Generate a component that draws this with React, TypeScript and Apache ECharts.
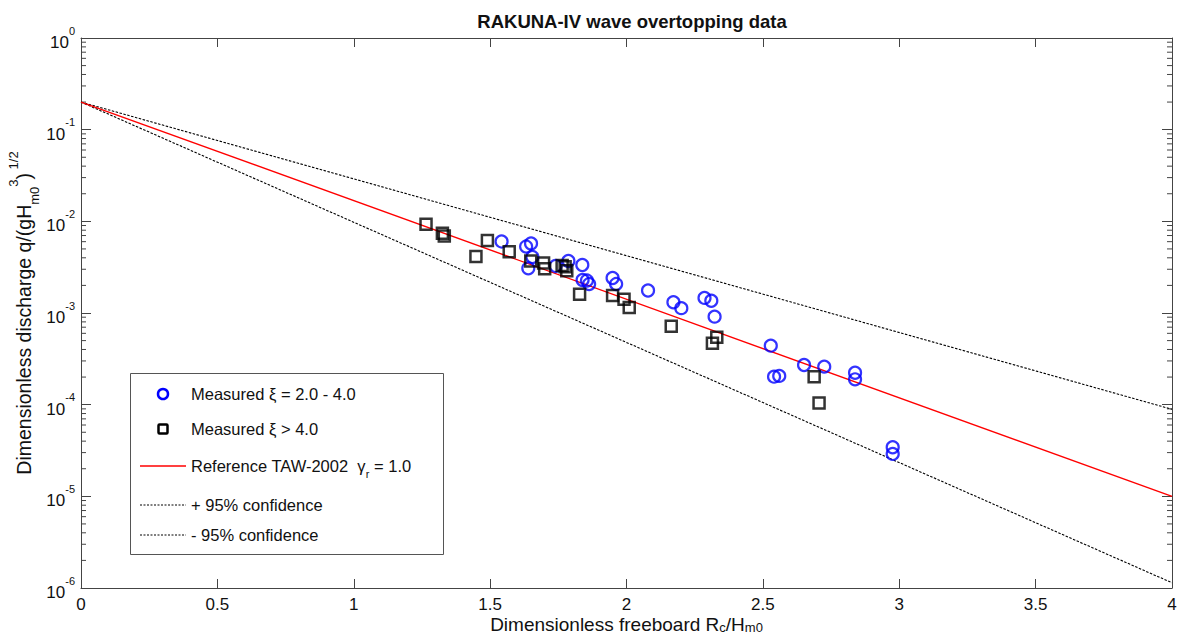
import React, { useEffect, useRef } from "react";
import * as echarts from "echarts";

const FONT = '"Liberation Sans", Arial, sans-serif';

// Measured xi = 2.0 - 4.0 (blue circles)
const blueX = [1.542, 1.632, 1.650, 1.655, 1.640, 1.740, 1.787, 1.838, 1.839, 1.855, 1.863, 1.949, 1.962, 2.079, 2.172, 2.201, 2.286, 2.311, 2.323, 2.529, 2.541, 2.560, 2.651, 2.725, 2.838, 2.838, 2.976, 2.976];
const blueY = [6.03e-3, 5.31e-3, 5.73e-3, 4.08e-3, 3.07e-3, 3.26e-3, 3.69e-3, 3.34e-3, 2.29e-3, 2.26e-3, 2.07e-3, 2.41e-3, 2.07e-3, 1.76e-3, 1.31e-3, 1.13e-3, 1.46e-3, 1.36e-3, 9.12e-4, 4.40e-4, 2.02e-4, 2.06e-4, 2.71e-4, 2.60e-4, 2.23e-4, 1.89e-4, 3.43e-5, 2.90e-5];

// Measured xi > 4.0 (black squares)
const blackX = [1.265, 1.325, 1.332, 1.448, 1.490, 1.570, 1.649, 1.696, 1.700, 1.764, 1.775, 1.781, 1.828, 1.949, 1.991, 2.010, 2.164, 2.315, 2.331, 2.688, 2.706];
const blackY = [9.29e-3, 7.41e-3, 6.92e-3, 4.13e-3, 6.18e-3, 4.67e-3, 3.69e-3, 3.51e-3, 3.04e-3, 3.30e-3, 3.20e-3, 2.89e-3, 1.60e-3, 1.55e-3, 1.41e-3, 1.15e-3, 7.18e-4, 4.67e-4, 5.43e-4, 2.02e-4, 1.04e-4];

// Reference lines (straight on log axis)
const lineX = [0, 4];
const refY = [0.2, 1.0e-5];
const upperY = [0.2, 8.9e-5];
const lowerY = [0.2, 1.14e-6];

const xTicks = [0, 0.5, 1, 1.5, 2, 2.5, 3, 3.5, 4];

const minorTickValues: number[] = [];
for (let e = -6; e < 0; e++) {
  for (let m = 2; m <= 9; m++) minorTickValues.push(m * Math.pow(10, e));
}

const zip = (xs: number[], ys: number[]) => xs.map((x, i) => [x, ys[i]]);

const AXIS_COLOR = "#444";
const LEG_FS = 16.5;

export default function App() {
  const ref = useRef<HTMLDivElement>(null);

  useEffect(() => {
    if (!ref.current) return;
    const chart = echarts.init(ref.current, undefined, { renderer: "svg" });

    const yLabelRich = {
      b: { fontSize: 17, fontFamily: FONT, color: "#111", lineHeight: 26, verticalAlign: "bottom" as const },
      e: { fontSize: 11, fontFamily: FONT, color: "#111", lineHeight: 12, verticalAlign: "top" as const },
    };

    const legendItems: any[] = [
      {
        type: "rect",
        z: 100,
        shape: { x: 130.5, y: 373.5, width: 313, height: 181 },
        style: { fill: "#fff", stroke: "#555", lineWidth: 1 },
      },
      {
        type: "circle",
        z: 101,
        shape: { cx: 163, cy: 394, r: 5 },
        style: { fill: "none", stroke: "#0000ff", lineWidth: 2.5 },
      },
      {
        type: "rect",
        z: 101,
        shape: { x: 158.5, y: 424.5, width: 9, height: 9, r: 1 },
        style: { fill: "none", stroke: "#000", lineWidth: 2.5 },
      },
      {
        type: "line",
        z: 101,
        shape: { x1: 140, y1: 466, x2: 186, y2: 466 },
        style: { stroke: "#ff0000", lineWidth: 1.3 },
      },
      {
        type: "line",
        z: 101,
        shape: { x1: 140, y1: 505, x2: 186, y2: 505 },
        style: { stroke: "#000", lineWidth: 1, lineDash: [2, 1.5] },
      },
      {
        type: "line",
        z: 101,
        shape: { x1: 140, y1: 535, x2: 186, y2: 535 },
        style: { stroke: "#000", lineWidth: 1, lineDash: [2, 1.5] },
      },
      {
        type: "text",
        z: 101,
        style: { text: "Measured ξ = 2.0 - 4.0", x: 191, y: 394, font: `${LEG_FS}px ${FONT}`, fill: "#111", verticalAlign: "middle" },
      },
      {
        type: "text",
        z: 101,
        style: { text: "Measured ξ > 4.0", x: 191, y: 429, font: `${LEG_FS}px ${FONT}`, fill: "#111", verticalAlign: "middle" },
      },
      {
        type: "text",
        z: 101,
        style: {
          text: "{n|Reference TAW-2002  γ}{s|r}{n| = 1.0}",
          x: 191,
          y: 466,
          verticalAlign: "middle",
          fill: "#111",
          rich: {
            n: { fontSize: LEG_FS, fontFamily: FONT, color: "#111", lineHeight: 26 },
            s: { fontSize: 11, fontFamily: FONT, color: "#111", lineHeight: 11, verticalAlign: "bottom" },
          },
        },
      },
      {
        type: "text",
        z: 101,
        style: { text: "+ 95% confidence", x: 191, y: 505, font: `${LEG_FS}px ${FONT}`, fill: "#111", verticalAlign: "middle" },
      },
      {
        type: "text",
        z: 101,
        style: { text: "- 95% confidence", x: 191, y: 535, font: `${LEG_FS}px ${FONT}`, fill: "#111", verticalAlign: "middle" },
      },
    ];

    const option: any = {
      animation: false,
      backgroundColor: "#fff",
      title: {
        text: "RAKUNA-IV wave overtopping data",
        left: 627,
        top: 7,
        textAlign: "center",
        textStyle: { fontSize: 18.5, fontWeight: "bold", fontFamily: FONT, color: "#111" },
      },
      grid: { left: 81, right: 10, top: 38, bottom: 55, containLabel: false, outerBoundsMode: "none" },
      xAxis: [
        {
          type: "value",
          min: 0,
          max: 4,
          interval: 0.5,
          position: "bottom",
          name: "{n|Dimensionless freeboard R}{s|c}{n|/H}{s|m0}",
          nameLocation: "middle",
          nameGap: 26,
          nameMoveOverlap: false,
          nameTextStyle: {
            rich: {
              n: { fontSize: 19, fontFamily: FONT, color: "#111", lineHeight: 20 },
              s: { fontSize: 13, fontFamily: FONT, color: "#111", lineHeight: 10, verticalAlign: "bottom" },
            },
          },
          axisLine: { show: true, onZero: false, lineStyle: { color: AXIS_COLOR, width: 1 } },
          axisTick: { show: true, inside: true, length: 9, lineStyle: { color: AXIS_COLOR } },
          axisLabel: {
            fontSize: 17,
            lineHeight: 17,
            fontFamily: FONT,
            color: "#111",
            margin: 8,
            formatter: (v: number) => String(v),
            customValues: xTicks,
          },
          splitLine: { show: false },
        },
        {
          type: "value",
          min: 0,
          max: 4,
          interval: 0.5,
          position: "top",
          axisLine: { show: true, onZero: false, lineStyle: { color: AXIS_COLOR, width: 1 } },
          axisTick: { show: true, inside: true, length: 9, lineStyle: { color: AXIS_COLOR } },
          axisLabel: { show: false },
          splitLine: { show: false },
        },
      ],
      yAxis: [
        {
          type: "log",
          logBase: 10,
          min: 1e-6,
          max: 1,
          position: "left",
          name: "{n|Dimensionless discharge q/(gH}{s|m0}{p|3}{n|)}{p| 1/2}",
          nameLocation: "middle",
          nameRotate: 90,
          nameGap: 40,
          nameMoveOverlap: false,
          nameTextStyle: {
            rich: {
              n: { fontSize: 19.5, fontFamily: FONT, color: "#111", lineHeight: 34 },
              s: { fontSize: 13, fontFamily: FONT, color: "#111", lineHeight: 13, verticalAlign: "bottom" },
              p: { fontSize: 13, fontFamily: FONT, color: "#111", lineHeight: 13, verticalAlign: "top" },
            },
          },
          axisLine: { show: true, onZero: false, lineStyle: { color: AXIS_COLOR, width: 1 } },
          axisTick: { show: true, inside: true, length: 10, lineStyle: { color: AXIS_COLOR } },
          axisLabel: {
            margin: 6,
            formatter: (v: number) => `{b|10}{e|${Math.round(Math.log10(v))}}`,
            rich: yLabelRich,
          },
          splitLine: { show: false },
        },
        {
          type: "log",
          logBase: 10,
          min: 1e-6,
          max: 1,
          position: "right",
          axisLine: { show: true, onZero: false, lineStyle: { color: AXIS_COLOR, width: 1 } },
          axisTick: { show: true, inside: true, length: 10, lineStyle: { color: AXIS_COLOR } },
          axisLabel: { show: false },
          splitLine: { show: false },
        },
      ],
      graphic: legendItems,
      series: [
        {
          name: "minor ticks",
          type: "custom",
          xAxisIndex: 0,
          yAxisIndex: 0,
          silent: true,
          clip: false,
          data: minorTickValues.map((v) => [0, v]),
          renderItem: (_params: any, api: any) => {
            const v = api.value(1);
            const l = api.coord([0, v]);
            const r = api.coord([4, v]);
            return {
              type: "group",
              children: [
                { type: "line", shape: { x1: l[0], y1: l[1], x2: l[0] + 5, y2: l[1] }, style: { stroke: AXIS_COLOR, lineWidth: 1 } },
                { type: "line", shape: { x1: r[0] - 5, y1: r[1], x2: r[0], y2: r[1] }, style: { stroke: AXIS_COLOR, lineWidth: 1 } },
              ],
            };
          },
        },
        {
          name: "+ 95% confidence",
          type: "line",
          data: zip(lineX, upperY),
          showSymbol: false,
          symbol: "none",
          lineStyle: { color: "#000", width: 1.1, type: [2.5, 1.5] },
          z: 2,
        },
        {
          name: "- 95% confidence",
          type: "line",
          data: zip(lineX, lowerY),
          showSymbol: false,
          symbol: "none",
          lineStyle: { color: "#000", width: 1.1, type: [2.5, 1.5] },
          z: 2,
        },
        {
          name: "Reference TAW-2002 γr = 1.0",
          type: "line",
          data: zip(lineX, refY),
          showSymbol: false,
          symbol: "none",
          lineStyle: { color: "#ff0000", width: 1.4 },
          z: 3,
        },
        {
          name: "Measured ξ = 2.0 - 4.0",
          type: "scatter",
          data: zip(blueX, blueY),
          symbol: "circle",
          symbolSize: 12,
          itemStyle: { color: "rgba(0,0,0,0)", borderColor: "#0000ff", borderWidth: 2.2 },
          z: 4,
        },
        {
          name: "Measured ξ > 4.0",
          type: "scatter",
          data: zip(blackX, blackY),
          symbol: "rect",
          symbolSize: 11,
          itemStyle: { color: "rgba(0,0,0,0)", borderColor: "#000", borderWidth: 2.5 },
          z: 5,
        },
      ],
    };

    chart.setOption(option);
    return () => chart.dispose();
  }, []);

  return (
    <div
      ref={ref}
      style={{ position: "fixed", left: 0, top: 0, width: 1182, height: 643, background: "#fff" }}
    />
  );
}
